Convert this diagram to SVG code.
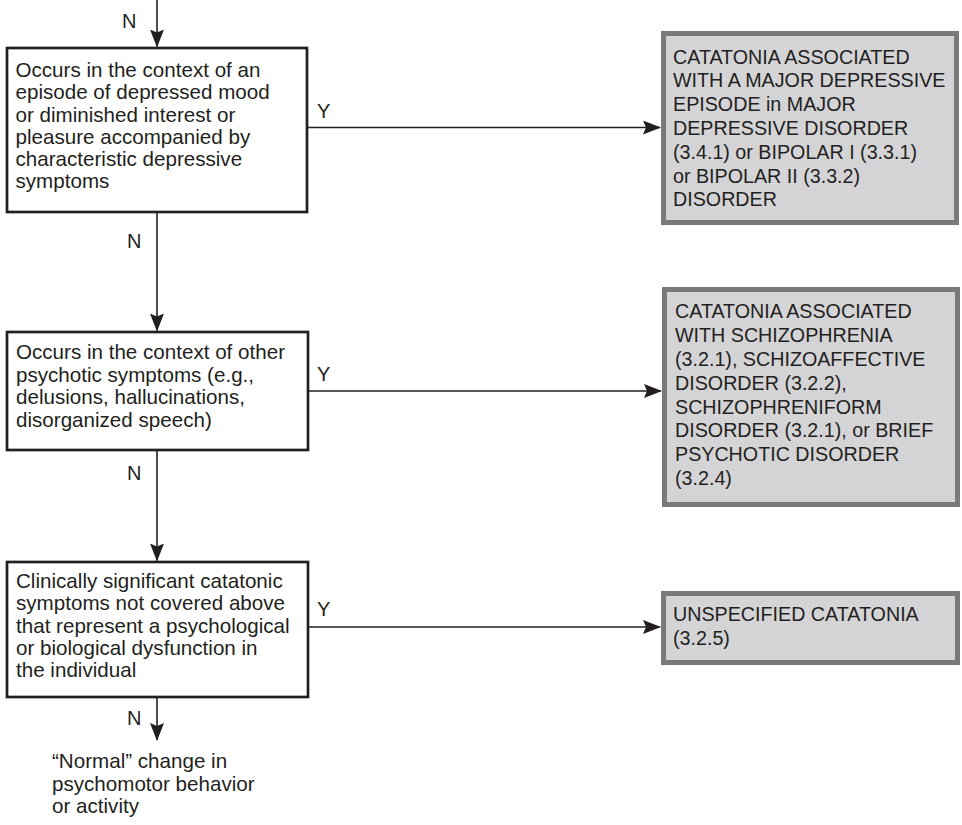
<svg xmlns="http://www.w3.org/2000/svg" width="962" height="825" viewBox="0 0 962 825">
  <style>
    .q { fill: #ffffff; stroke: #231f20; stroke-width: 2.7; }
    .r { fill: #d4d4d6; stroke: #7a7a7c; stroke-width: 5; }
    .t { font-family: "Liberation Sans", Arial, sans-serif; font-size: 20.6px; fill: #231f20; }
    .c { font-family: "Liberation Sans", Arial, sans-serif; font-size: 19.7px; fill: #231f20; }
    .lbl { font-family: "Liberation Sans", Arial, sans-serif; font-size: 20px; fill: #231f20; }
    .e { fill: none; stroke: #231f20; stroke-width: 1.6; }
  </style>
  <defs>
    <marker id="ah" markerUnits="userSpaceOnUse" markerWidth="18" markerHeight="14" viewBox="0 0 18 14" refX="17" refY="7" orient="auto">
      <path d="M0,0 L18,7 L0,14 L3,7 Z" fill="#231f20"/>
    </marker>
  </defs>

  <!-- connectors -->
  <g id="connectors">
    <line class="e" x1="157" y1="0" x2="157" y2="46.5" marker-end="url(#ah)"/>
    <line class="e" x1="157" y1="212" x2="157" y2="330.5" marker-end="url(#ah)"/>
    <line class="e" x1="157" y1="450" x2="157" y2="560.5" marker-end="url(#ah)"/>
    <line class="e" x1="157" y1="697" x2="157" y2="740" marker-end="url(#ah)"/>
    <line class="e" x1="308" y1="127.5" x2="660" y2="127.5" marker-end="url(#ah)"/>
    <line class="e" x1="308" y1="391" x2="661" y2="391" marker-end="url(#ah)"/>
    <line class="e" x1="308" y1="627" x2="660" y2="627" marker-end="url(#ah)"/>
    <text class="lbl" x="122" y="28">N</text>
    <text class="lbl" x="127" y="248">N</text>
    <text class="lbl" x="127" y="480">N</text>
    <text class="lbl" x="127" y="725">N</text>
    <text class="lbl" x="317" y="117.5">Y</text>
    <text class="lbl" x="317" y="381">Y</text>
    <text class="lbl" x="317" y="616">Y</text>
  </g>

  <!-- decision: depressive episode -->
  <g id="q-depressive">
    <rect class="q" x="7" y="48" width="300" height="164"/>
    <text class="t" x="15.5" y="77.3">Occurs in the context of an</text>
    <text class="t" x="15.5" y="99.4">episode of depressed mood</text>
    <text class="t" x="15.5" y="121.5">or diminished interest or</text>
    <text class="t" x="15.5" y="143.6">pleasure accompanied by</text>
    <text class="t" x="15.5" y="165.7">characteristic depressive</text>
    <text class="t" x="15.5" y="187.8">symptoms</text>
  </g>

  <!-- decision: psychotic symptoms -->
  <g id="q-psychotic">
    <rect class="q" x="7" y="332" width="301" height="118"/>
    <text class="t" x="16" y="359.3">Occurs in the context of other</text>
    <text class="t" x="16" y="381.8">psychotic symptoms (e.g.,</text>
    <text class="t" x="16" y="404.3">delusions, hallucinations,</text>
    <text class="t" x="16" y="426.8">disorganized speech)</text>
  </g>

  <!-- decision: other catatonic symptoms -->
  <g id="q-other">
    <rect class="q" x="7" y="562" width="301" height="135"/>
    <text class="t" x="16" y="588.3">Clinically significant catatonic</text>
    <text class="t" x="16" y="610.4">symptoms not covered above</text>
    <text class="t" x="16" y="632.5">that represent a psychological</text>
    <text class="t" x="16" y="654.6">or biological dysfunction in</text>
    <text class="t" x="16" y="676.7">the individual</text>
  </g>

  <!-- terminal: normal change -->
  <g id="normal">
    <text class="t" x="52" y="768">“Normal” change in</text>
    <text class="t" x="52" y="790.5">psychomotor behavior</text>
    <text class="t" x="52" y="813">or activity</text>
  </g>

  <!-- outcome: major depressive episode -->
  <g id="dx-mde">
    <rect class="r" x="663.5" y="33.5" width="293" height="189"/>
    <text class="c" x="673" y="63.5">CATATONIA ASSOCIATED</text>
    <text class="c" x="673" y="87.3">WITH A MAJOR DEPRESSIVE</text>
    <text class="c" x="673" y="111.1">EPISODE in MAJOR</text>
    <text class="c" x="673" y="134.9">DEPRESSIVE DISORDER</text>
    <text class="c" x="673" y="158.7">(3.4.1) or BIPOLAR I (3.3.1)</text>
    <text class="c" x="673" y="182.5">or BIPOLAR II (3.3.2)</text>
    <text class="c" x="673" y="206.3">DISORDER</text>
  </g>

  <!-- outcome: schizophrenia spectrum -->
  <g id="dx-schizo">
    <rect class="r" x="664.5" y="289.5" width="293" height="215"/>
    <text class="c" x="675" y="318.3">CATATONIA ASSOCIATED</text>
    <text class="c" x="675" y="342.1">WITH SCHIZOPHRENIA</text>
    <text class="c" x="675" y="365.9">(3.2.1), SCHIZOAFFECTIVE</text>
    <text class="c" x="675" y="389.7">DISORDER (3.2.2),</text>
    <text class="c" x="675" y="413.5">SCHIZOPHRENIFORM</text>
    <text class="c" x="675" y="437.3">DISORDER (3.2.1), or BRIEF</text>
    <text class="c" x="675" y="461.1">PSYCHOTIC DISORDER</text>
    <text class="c" x="675" y="484.9">(3.2.4)</text>
  </g>

  <!-- outcome: unspecified -->
  <g id="dx-unspecified">
    <rect class="r" x="663.5" y="593.5" width="294" height="69"/>
    <text class="c" x="673" y="621">UNSPECIFIED CATATONIA</text>
    <text class="c" x="673" y="644.8">(3.2.5)</text>
  </g>
</svg>
